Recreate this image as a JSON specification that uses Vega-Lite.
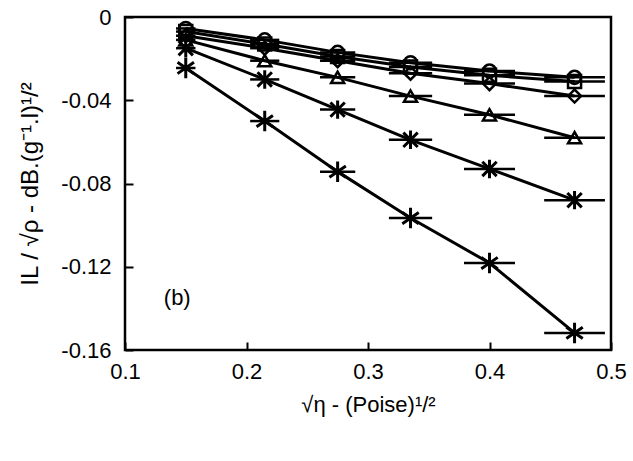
{
  "$schema": "https://vega.github.io/schema/vega-lite/v6.json",
  "width": 486,
  "height": 333,
  "autosize": {"type": "none"},
  "padding": {"left": 125, "top": 17, "right": 22, "bottom": 111},
  "background": "white",
  "config": {
    "view": {"stroke": "black", "strokeWidth": 2.5},
    "font": "Liberation Sans",
    "axis": {
      "domain": false,
      "grid": false,
      "labelFlush": false,
      "labelOverlap": false,
      "tickColor": "black",
      "tickSize": -8,
      "tickWidth": 2,
      "labelColor": "black",
      "labelFont": "Liberation Sans",
      "labelFontSize": 22,
      "titleColor": "black",
      "titleFont": "Liberation Sans",
      "titleFontSize": 22,
      "titleFontWeight": "normal"
    }
  },
  "data": {
    "values": [
      {"s": "circle", "x": 0.15, "y": -0.0055, "xlo": 0.142, "xhi": 0.158},
      {"s": "circle", "x": 0.215, "y": -0.011, "xlo": 0.203, "xhi": 0.227},
      {"s": "circle", "x": 0.275, "y": -0.017, "xlo": 0.2605, "xhi": 0.2895},
      {"s": "circle", "x": 0.335, "y": -0.022, "xlo": 0.3172, "xhi": 0.3528},
      {"s": "circle", "x": 0.40, "y": -0.026, "xlo": 0.379, "xhi": 0.421},
      {"s": "circle", "x": 0.47, "y": -0.029, "xlo": 0.445, "xhi": 0.495},
      {"s": "square", "x": 0.15, "y": -0.007, "xlo": 0.142, "xhi": 0.158},
      {"s": "square", "x": 0.215, "y": -0.013, "xlo": 0.203, "xhi": 0.227},
      {"s": "square", "x": 0.275, "y": -0.019, "xlo": 0.2605, "xhi": 0.2895},
      {"s": "square", "x": 0.335, "y": -0.024, "xlo": 0.3172, "xhi": 0.3528},
      {"s": "square", "x": 0.40, "y": -0.028, "xlo": 0.379, "xhi": 0.421},
      {"s": "square", "x": 0.47, "y": -0.031, "xlo": 0.445, "xhi": 0.495},
      {"s": "diamond", "x": 0.15, "y": -0.009, "xlo": 0.142, "xhi": 0.158},
      {"s": "diamond", "x": 0.215, "y": -0.015, "xlo": 0.203, "xhi": 0.227},
      {"s": "diamond", "x": 0.275, "y": -0.021, "xlo": 0.2605, "xhi": 0.2895},
      {"s": "diamond", "x": 0.335, "y": -0.027, "xlo": 0.3172, "xhi": 0.3528},
      {"s": "diamond", "x": 0.40, "y": -0.032, "xlo": 0.379, "xhi": 0.421},
      {"s": "diamond", "x": 0.47, "y": -0.038, "xlo": 0.445, "xhi": 0.495},
      {"s": "triangle", "x": 0.15, "y": -0.011, "xlo": 0.142, "xhi": 0.158},
      {"s": "triangle", "x": 0.215, "y": -0.021, "xlo": 0.203, "xhi": 0.227},
      {"s": "triangle", "x": 0.275, "y": -0.029, "xlo": 0.2605, "xhi": 0.2895},
      {"s": "triangle", "x": 0.335, "y": -0.038, "xlo": 0.3172, "xhi": 0.3528},
      {"s": "triangle", "x": 0.40, "y": -0.047, "xlo": 0.379, "xhi": 0.421},
      {"s": "triangle", "x": 0.47, "y": -0.058, "xlo": 0.445, "xhi": 0.495},
      {"s": "cross", "x": 0.15, "y": -0.015, "xlo": 0.142, "xhi": 0.158},
      {"s": "cross", "x": 0.215, "y": -0.030, "xlo": 0.203, "xhi": 0.227},
      {"s": "cross", "x": 0.275, "y": -0.0445, "xlo": 0.2605, "xhi": 0.2895},
      {"s": "cross", "x": 0.335, "y": -0.059, "xlo": 0.3172, "xhi": 0.3528},
      {"s": "cross", "x": 0.40, "y": -0.073, "xlo": 0.379, "xhi": 0.421},
      {"s": "cross", "x": 0.47, "y": -0.088, "xlo": 0.445, "xhi": 0.495},
      {"s": "star", "x": 0.15, "y": -0.0245, "xlo": 0.142, "xhi": 0.158},
      {"s": "star", "x": 0.215, "y": -0.050, "xlo": 0.203, "xhi": 0.227},
      {"s": "star", "x": 0.275, "y": -0.0743, "xlo": 0.2605, "xhi": 0.2895},
      {"s": "star", "x": 0.335, "y": -0.0966, "xlo": 0.3172, "xhi": 0.3528},
      {"s": "star", "x": 0.40, "y": -0.1182, "xlo": 0.379, "xhi": 0.421},
      {"s": "star", "x": 0.47, "y": -0.1518, "xlo": 0.445, "xhi": 0.495}
    ]
  },
  "layer": [
    {
      "mark": {"type": "line", "color": "black", "strokeWidth": 3},
      "encoding": {
        "x": {"field": "x", "type": "quantitative", "scale": {"domain": [0.1, 0.5]},
          "axis": {"values": [0.1, 0.2, 0.3, 0.4, 0.5], "labelExpr": "'' + datum.value", "labelPadding": 19, "title": "√η - (Poise)¹/²", "titlePadding": 12}},
        "y": {"field": "y", "type": "quantitative", "scale": {"domain": [-0.16, 0]},
          "axis": {"values": [0, -0.04, -0.08, -0.12, -0.16], "labelExpr": "'' + datum.value", "labelPadding": 22, "title": "IL / √ρ - dB.(g⁻¹.l)¹/²", "titlePadding": 18, "titleFontSize": 24}},
        "detail": {"field": "s"},
        "order": {"field": "x"}
      }
    },
    {
      "mark": {"type": "rule", "color": "black", "strokeWidth": 2.5},
      "encoding": {
        "x": {"field": "xlo", "type": "quantitative"},
        "x2": {"field": "xhi"},
        "y": {"field": "y", "type": "quantitative"}
      }
    },
    {
      "mark": {"type": "point", "filled": false, "stroke": "black", "opacity": 1},
      "encoding": {
        "x": {"field": "x", "type": "quantitative"},
        "y": {"field": "y", "type": "quantitative"},
        "shape": {"field": "s", "type": "nominal", "legend": null,
          "scale": {"domain": ["circle", "square", "diamond", "triangle", "cross", "star"],
            "range": ["circle", "square", "diamond", "triangle-up", "M-0.7,-0.7L0.7,0.7M-0.7,0.7L0.7,-0.7M0,-0.9L0,0.9", "M0,-1L0,1M-0.8,-0.55L0.8,0.55M-0.8,0.55L0.8,-0.55"]}},
        "size": {"condition": {"test": "datum.s == 'cross' || datum.s == 'star'", "value": 420}, "value": 170},
        "strokeWidth": {"condition": {"test": "datum.s == 'cross' || datum.s == 'star'", "value": 3}, "value": 2.5}
      }
    },
    {
      "data": {"values": [{"x": 0.143, "y": -0.135, "label": "(b)"}]},
      "mark": {"type": "text", "fontSize": 22, "font": "Liberation Sans", "color": "black", "align": "center", "baseline": "middle"},
      "encoding": {
        "x": {"field": "x", "type": "quantitative"},
        "y": {"field": "y", "type": "quantitative"},
        "text": {"field": "label"}
      }
    }
  ]
}
